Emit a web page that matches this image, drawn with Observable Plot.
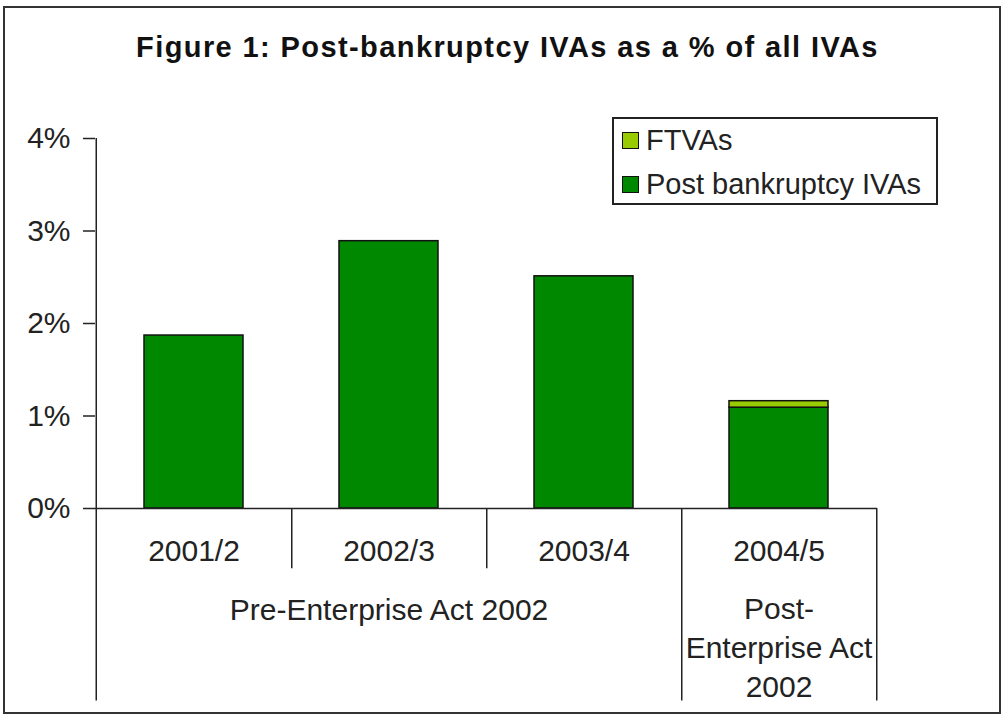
<!DOCTYPE html>
<html>
<head>
<meta charset="utf-8">
<script src="https://cdn.jsdelivr.net/npm/d3@7"></script>
<script src="https://cdn.jsdelivr.net/npm/@observablehq/plot@0.6"></script>
<style>
  html, body { margin: 0; padding: 0; background: #fff; }
  #wrap { position: relative; width: 1005px; height: 718px; font-family: "Liberation Sans", Arial, sans-serif; color: #222; }
  #frame { position: absolute; left: 3px; top: 6px; width: 998px; height: 708px; border: 2px solid #333; box-sizing: border-box; pointer-events: none; }
  #title { position: absolute; left: 5px; width: 1005px; top: 31px; text-align: center; font-weight: bold; font-size: 29px; letter-spacing: 1.4px; color: #111; }
  #legend { position: absolute; left: 612px; top: 117px; width: 326px; height: 88px; border: 2px solid #222; box-sizing: border-box; background: #fff; font-size: 29px; }
  .item { position: absolute; left: 8px; display: flex; align-items: center; white-space: nowrap; }
  .sw { width: 15px; height: 15px; border: 1.5px solid #111; margin-right: 7px; }
  #chart { position: absolute; left: 0; top: 0; }
</style>
</head>
<body>
<div id="wrap">
  <div id="chart"></div>
  <div id="title">Figure 1: Post-bankruptcy IVAs as a % of all IVAs</div>
  <div id="legend"></div>
  <div id="frame"></div>
</div>
<script>
const categories = ["2001/2", "2002/3", "2003/4", "2004/5"];
const seriesNames = ["FTVAs", "Post bankruptcy IVAs"];
const postBankruptcy = [1.87, 2.89, 2.51, 1.09];
const ftvas = [0, 0, 0, 0.07];
const yTicks = [0, 1, 2, 3, 4];
const groupLabels = ["Pre-Enterprise Act 2002", "Post-\nEnterprise Act\n2002"];
const groupAt = ["2002/3", "2004/5"];
const groupY = [-1.07, -1.48];
const colors = ["#99cc00", "#008800"];

const data = [];
categories.forEach((c, i) => {
  data.push({cat: c, series: "Post bankruptcy IVAs", value: postBankruptcy[i], order: 0});
  if (ftvas[i] > 0) data.push({cat: c, series: "FTVAs", value: ftvas[i], order: 1});
});
const groups = groupLabels.map((label, i) => ({label, at: groupAt[i], y: groupY[i]}));

const W = 1005, H = 718, ML = 95, MR = 128, MT = 138, MB = 210;
const step = (W - ML - MR) / categories.length;
const fs = 30;

const seps = [
  {cat: "2001/2", side: -1, depth: -2.08, top: 4},
  {cat: "2001/2", side: 1, depth: -0.65, top: 0},
  {cat: "2002/3", side: 1, depth: -0.65, top: 0},
  {cat: "2003/4", side: 1, depth: -2.08, top: 0},
  {cat: "2004/5", side: 1, depth: -2.08, top: 0}
];

const chart = Plot.plot({
  width: W, height: H,
  marginLeft: ML, marginRight: MR, marginTop: MT, marginBottom: MB,
  style: {fontFamily: "'Liberation Sans', Arial, sans-serif", fontSize: fs + "px", color: "#222", background: "transparent"},
  x: {domain: categories, paddingInner: 0.49, paddingOuter: 0.245, axis: null},
  y: {domain: [0, 4], axis: null},
  color: {domain: seriesNames, range: colors},
  marks: [
    Plot.barY(data, Plot.stackY({x: "cat", y: "value", fill: "series", order: "order", stroke: "#111", strokeWidth: 1.5})),
    Plot.axisY({ticks: yTicks, tickFormat: d => d + "%", tickSize: 12, tickPadding: 13, fontSize: fs, stroke: "#222", strokeWidth: 1.5}),
    Plot.ruleY([0], {stroke: "#222", strokeWidth: 1.5}),
    Plot.ruleX(seps.filter(d => d.side < 0), {x: "cat", y1: "top", y2: "depth", dx: -step / 2, stroke: "#222", strokeWidth: 1.5}),
    Plot.ruleX(seps.filter(d => d.side > 0), {x: "cat", y1: "top", y2: "depth", dx: step / 2, stroke: "#222", strokeWidth: 1.5}),
    Plot.text(categories, {x: d => d, y: -0.46, text: d => d, fontSize: fs, fill: "#222"}),
    Plot.text(groups, {x: "at", y: "y", text: "label", fontSize: fs, lineHeight: 1.3, fill: "#222"})
  ]
});
document.getElementById("chart").appendChild(chart);

const legend = document.getElementById("legend");
seriesNames.forEach((name, i) => {
  const it = document.createElement("div");
  it.className = "item";
  it.style.top = (i === 0 ? 5 : 49) + "px";
  const sw = document.createElement("div");
  sw.className = "sw";
  sw.style.background = colors[i];
  const tx = document.createElement("span");
  tx.textContent = name;
  it.appendChild(sw); it.appendChild(tx);
  legend.appendChild(it);
});
</script>
</body>
</html>
